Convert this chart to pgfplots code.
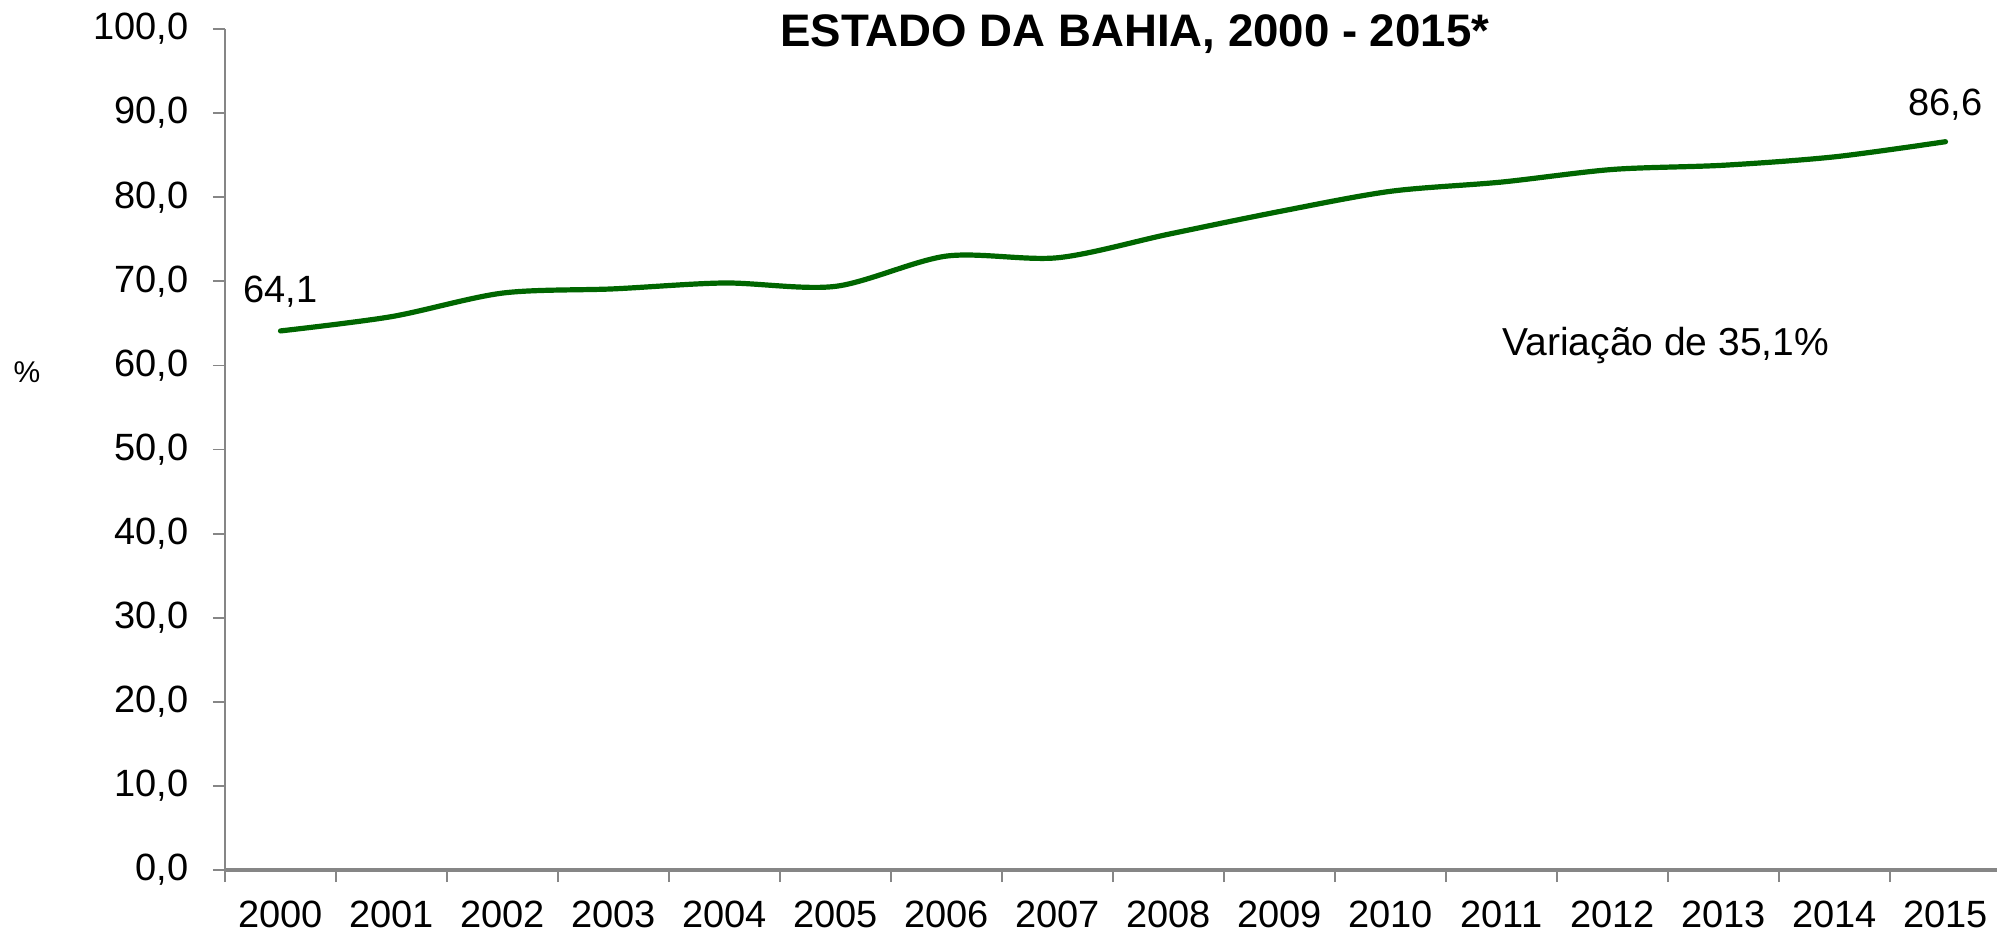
\documentclass[border=0pt]{standalone}
\usepackage{fontspec}
\setmainfont{Liberation Sans}
\usepackage{pgfplots}
\pgfplotsset{compat=1.18}
\definecolor{linegreen}{RGB}{0,102,0}
\definecolor{axisgray}{RGB}{134,134,134}
\pgfplotstableread{
x y
0 64.1
1 65.8
2 68.6
3 69.1
4 69.8
5 69.4
6 73.0
7 72.8
8 75.6
9 78.3
10 80.7
11 81.8
12 83.3
13 83.8
14 84.8
15 86.6
}\datatable
\begin{document}
\begin{tikzpicture}
\begin{axis}[
  scale only axis, width=886pt, height=420.5pt,
  xmin=-0.5, xmax=15.464, ymin=0, ymax=100,
  axis x line=bottom, axis y line=left,
  x axis line style={-, draw=axisgray, line width=1.6pt},
  y axis line style={-, draw=axisgray, line width=0.9pt},
  tick align=outside,
  major tick length=6pt,
  tick style={draw=axisgray, line width=0.9pt},
  xtick={-0.5,0.5,...,14.5},
  xticklabels={},
  extra x ticks={0,1,...,15},
  extra x tick labels={2000,2001,2002,2003,2004,2005,2006,2007,2008,2009,2010,2011,2012,2013,2014,2015},
  extra x tick style={major tick length=0pt, xticklabel style={anchor=north, inner sep=0pt, yshift=-15.5pt}},
  ytick={0,10,...,100},
  yticklabel style={anchor=east, inner sep=0pt, xshift=-12pt,
    /pgf/number format/fixed, /pgf/number format/fixed zerofill,
    /pgf/number format/precision=1, /pgf/number format/use comma,
    /pgf/number format/assume math mode=true},
  tick label style={font=\fontsize{19}{22}\selectfont},
  ylabel={\%},
  every axis y label/.style={at={(axis description cs:0,0.592)}, xshift=-99pt, anchor=center, font=\fontsize{15}{18}\selectfont},
  title={ESTADO DA BAHIA, 2000 - 2015*},
  title style={at={(axis description cs:0.5135,1)}, anchor=base, yshift=-14.5pt, font=\fontsize{22.8}{26}\selectfont\bfseries},
  clip=false,
]
\coordinate (O) at (rel axis cs:0,0);
\addplot[linegreen, line width=2.6pt, smooth, line cap=round] table[x=x,y=y] {\datatable};
\node[anchor=base, font=\fontsize{19}{22}\selectfont, yshift=14pt] at (axis cs:0,64.1) {64,1};
\node[anchor=base, font=\fontsize{19}{22}\selectfont, yshift=13.3pt] at (axis cs:15,86.6) {86,6};
\node[anchor=base, font=\fontsize{19.5}{22}\selectfont] at (axis cs:12.48,61.2) {Variação de 35,1\%};
\end{axis}
\pgfresetboundingbox
\path[use as bounding box] ([xshift=-112.5pt,yshift=-32pt]O) rectangle ([xshift=886pt,yshift=435pt]O);
\end{tikzpicture}
\end{document}
